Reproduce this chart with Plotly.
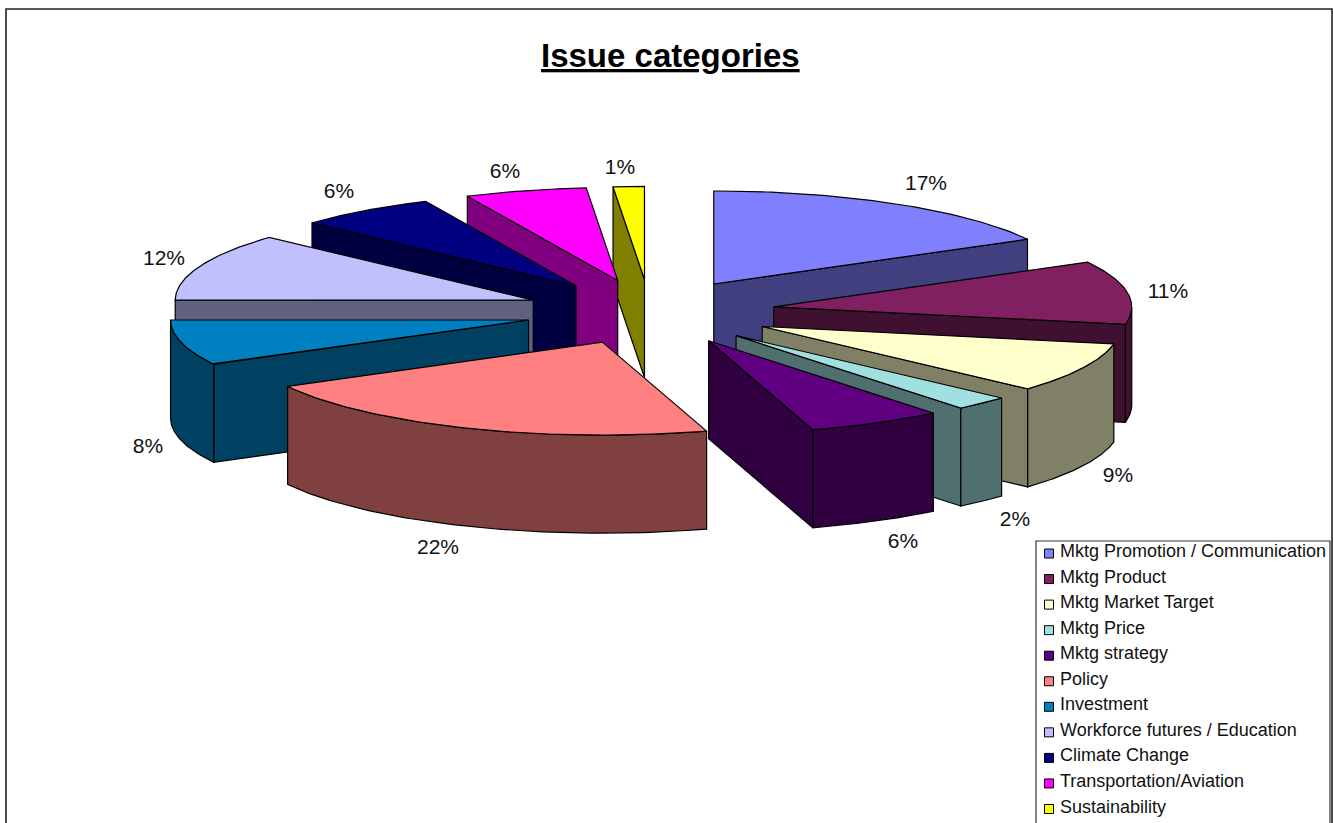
import numpy as np
import plotly.graph_objects as go

categories = ["Mktg Promotion / Communication", "Mktg Product", "Mktg Market Target", "Mktg Price",
              "Mktg strategy", "Policy", "Investment", "Workforce futures / Education",
              "Climate Change", "Transportation/Aviation", "Sustainability"]
values = [17.0, 11.0, 8.7, 2.5, 6.1, 21.8, 7.9, 11.8, 6.3, 5.5, 1.4]
pct_labels = ["17%", "11%", "9%", "2%", "6%", "22%", "8%", "12%", "6%", "6%", "1%"]
top_colors = ["#8080FF", "#802060", "#FFFFCC", "#A0E0E0", "#600080", "#FF8080",
              "#0080C0", "#C0C0FF", "#000080", "#FF00FF", "#FFFF00"]
side_colors = ["#404080", "#401030", "#808066", "#507070", "#300040", "#804040",
               "#004060", "#606080", "#000040", "#800080", "#808000"]
label_x = [926, 1168, 1118, 1015, 903, 438, 148, 164, 339, 505, 620]
label_y = [185, 293, 477, 521, 543, 549, 448, 260, 193, 173, 169]
draw_order = [10, 9, 8, 7, 6, 0, 1, 2, 3, 4, 5]

CX, CY, A, B, DEPTH, EXPLODE = 650, 312, 358, 93, 98, 0.35


def P(theta, r=1.0, c=(0, 0)):
    return (c[0] + r * A * np.sin(theta), c[1] - r * B * np.cos(theta))


cum = np.cumsum([0] + values) / sum(values) * 2 * np.pi
fig = go.Figure()


def poly(xs, ys, fill):
    fig.add_trace(go.Scatter(x=list(xs) + [xs[0]], y=list(ys) + [ys[0]], mode="lines", fill="toself",
                             fillcolor=fill, line=dict(color="black", width=1.2),
                             hoverinfo="skip", showlegend=False))


for i in draw_order:
    t0, t1 = cum[i], cum[i + 1]
    mx, my = P((t0 + t1) / 2, EXPLODE)
    c = (CX + mx, CY + my)
    # radial faces, only when they face the viewer
    for t, visible in ((t0, np.sin(t0) < -1e-6), (t1, np.sin(t1) > 1e-6)):
        if visible:
            ex, ey = P(t, 1, c)
            poly([c[0], ex, ex, c[0]], [c[1], ey, ey + DEPTH, c[1] + DEPTH], side_colors[i])
    # outer wall on the front half of the rim
    lo, hi = max(t0, np.pi / 2), min(t1, 1.5 * np.pi)
    if hi > lo:
        th = np.linspace(lo, hi, 60)
        ax, ay = P(th, 1, c)
        poly(np.r_[ax, ax[::-1]], np.r_[ay, ay[::-1] + DEPTH], side_colors[i])
    # top
    th = np.linspace(t0, t1, 80)
    ax, ay = P(th, 1, c)
    poly(np.r_[c[0], ax], np.r_[c[1], ay], top_colors[i])

# percent labels
fig.add_trace(go.Scatter(x=label_x, y=label_y, mode="text", text=pct_labels,
                         textposition="middle center", hoverinfo="skip", showlegend=False,
                         textfont=dict(family="Liberation Sans", size=21, color="#111111")))

# legend column
rows = [552.5 + 25.55 * k for k in range(len(categories))]
fig.add_trace(go.Scatter(x=[1049] * len(categories), y=[r + 1 for r in rows], mode="markers",
                         marker=dict(symbol="square", size=9, color=top_colors,
                                     line=dict(color="black", width=1)),
                         hoverinfo="skip", showlegend=False))
fig.add_trace(go.Scatter(x=[1060] * len(categories), y=rows, mode="text", text=categories,
                         textposition="middle right", hoverinfo="skip", showlegend=False,
                         textfont=dict(family="Liberation Sans", size=18, color="#111111")))

fig.update_layout(
    width=1333, height=823, margin=dict(l=0, r=0, t=0, b=0), autosize=False,
    paper_bgcolor="white", plot_bgcolor="white", showlegend=False,
    xaxis=dict(range=[0, 1333], visible=False, fixedrange=True),
    yaxis=dict(range=[823, 0], visible=False, fixedrange=True),
    shapes=[
        dict(type="rect", layer="below", x0=6, y0=9, x1=1332, y1=830, line=dict(color="#222222", width=1.6)),
        dict(type="rect", layer="below", x0=1036, y0=541, x1=1330, y1=830,
             fillcolor="white", line=dict(color="#333333", width=1.2)),
    ],
    annotations=[dict(x=670, y=55, xref="x", yref="y", showarrow=False, text="<b><u>Issue categories</u></b>",
                      font=dict(family="Liberation Sans", size=33, color="black"))],
)
fig.write_html("out.html", config={"displayModeBar": False},
               post_script="document.body.style.margin='0';document.body.style.overflow='hidden';")
